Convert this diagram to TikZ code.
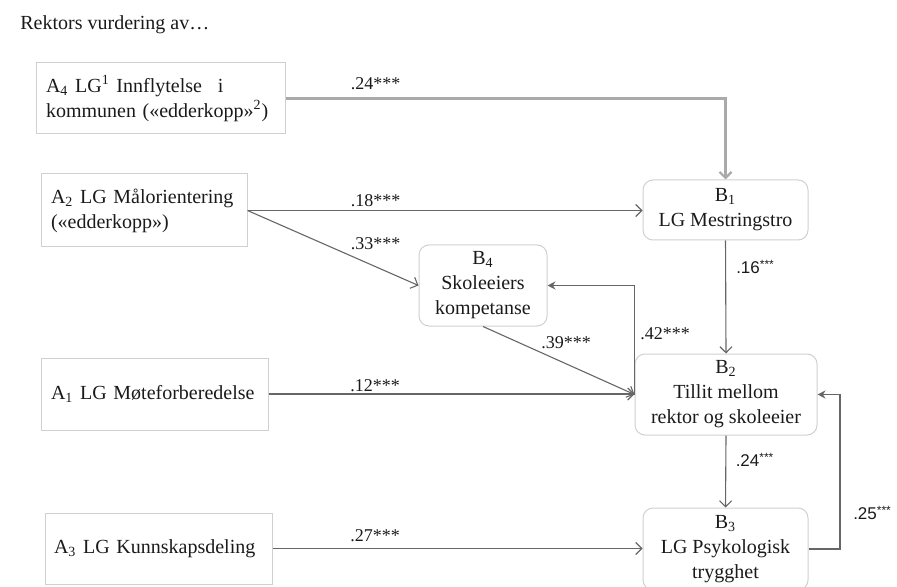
\documentclass[tikz,border=0pt]{standalone}
\usepackage{fontspec}
\setmainfont{Liberation Serif}
\newfontfamily\labsans{Liberation Sans}
\usetikzlibrary{arrows.meta}
\definecolor{boxgray}{HTML}{D0D0D0}
\definecolor{linecol}{HTML}{666666}
\definecolor{thickcol}{HTML}{AAAAAA}
\definecolor{textcol}{HTML}{1A1A1A}
\begin{document}
\begin{tikzpicture}[x=0.5pt,y=-0.5pt,
  abox/.style={draw=boxgray, line width=0.5pt, rectangle, inner xsep=5pt, inner ysep=0pt, align=left,
    font=\fontsize{10}{12.5}\selectfont, text=textcol},
  bbox/.style={draw=boxgray, line width=0.5pt, rounded corners=5pt, inner sep=0pt, align=center,
    font=\fontsize{10}{12.5}\selectfont, text=textcol},
  conn/.style={draw=linecol, line width=0.55pt, -{Straight Barb[length=3pt,width=6pt]}},
  thickconn/.style={draw=thickcol, line width=1.1pt, -{Straight Barb[length=3pt,width=6pt]}},
  fbconn/.style={draw=linecol, line width=0.55pt, -{Stealth[length=4pt,width=4pt]}},
  lab/.style={font=\fontsize{9}{9}\selectfont, text=textcol, inner sep=0pt},
  labs/.style={font=\labsans\fontsize{8.5}{9}\selectfont, text=textcol, inner sep=0pt}
]
\useasboundingbox (0,0) rectangle (897,587);

\node[anchor=west, inner sep=0pt, font=\fontsize{10}{12}\selectfont, text=textcol] (title) at (20,25) {Rektors vurdering av…};

% A boxes
\node[abox, minimum width=124.5pt, minimum height=35.5pt, text width=114.5pt] (A4) at (160.5,98.5)
  {A\textsubscript{4} LG\textsuperscript{1} Innflytelse\hspace{0.8em}i\\kommunen («edderkopp»\textsuperscript{2})};
\node[abox, minimum width=103pt, minimum height=36.5pt, text width=93pt] (A2) at (144,210.5)
  {A\textsubscript{2} LG Målorientering\\(«edderkopp»)};
\node[abox, minimum width=113.5pt, minimum height=36pt, text width=103.5pt] (A1) at (154.5,394)
  {A\textsubscript{1} LG Møteforberedelse};
\node[abox, minimum width=113.5pt, minimum height=35.5pt, text width=104.5pt, inner xsep=4.5pt] (A3) at (158.5,548.5)
  {A\textsubscript{3} LG Kunnskapsdeling};

% B boxes
\node[bbox, minimum width=82.5pt, minimum height=30pt] (B1) at (725.5,210)
  {B\textsubscript{1}\\LG Mestringstro};
\node[bbox, minimum width=64pt, minimum height=40.5pt] (B4) at (483,285.5)
  {B\textsubscript{4}\\Skoleeiers\\kompetanse};
\node[bbox, minimum width=91pt, minimum height=40.5pt] (B2) at (726,394.5)
  {B\textsubscript{2}\\Tillit mellom\\rektor og skoleeier};
\node[bbox, minimum width=82.5pt, minimum height=41pt] (B3) at (725.5,549)
  {B\textsubscript{3}\\LG Psykologisk\\trygghet};

% connectors
\draw[thickconn] (A4.east) -| (B1.north);
\draw[conn] (A2.east) -- (A2.east -| B1.west);
\draw[conn] (A2.east) -- (B4.west);
\draw[conn] (A1.east) -- (A1.east -| B2.west);
\draw[conn] (B4.south) -- (B2.west);
\draw[fbconn] (B2.west) |- (B4.east);
\draw[conn] (B1.south) -- (B2.north);
\draw[conn] (B2.south) -- (B3.north);
\draw[conn] (A3.east) -- (A3.east -| B3.west);
\coordinate (fb) at (840,549);
\draw[fbconn] (B3.east) -- (fb) |- (B2.east);

% labels
\node[lab] (l1) at (375.5,84) {.24***};
\node[lab] (l2) at (375.5,201) {.18***};
\node[lab] (l3) at (375.5,244) {.33***};
\node[lab] (l4) at (375,386) {.12***};
\node[lab] (l5) at (375,536) {.27***};
\node[lab] (l6) at (566,343) {.39***};
\node[lab] (l7) at (665,334) {.42***};
\node[labs] (l8) at (755.5,267) {.16\textsuperscript{***}};
\node[labs] (l9) at (755,460) {.24\textsuperscript{***}};
\node[labs] (l10) at (872.5,513) {.25\textsuperscript{***}};
\end{tikzpicture}
\end{document}
